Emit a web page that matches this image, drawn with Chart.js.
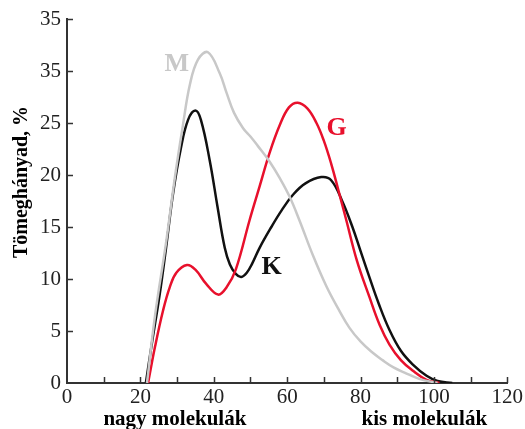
<!DOCTYPE html>
<html>
<head>
<meta charset="utf-8">
<script src="https://cdn.jsdelivr.net/npm/chart.js@4"></script>
<style>
  html, body { margin: 0; padding: 0; background: #fff; }
  #wrap { width: 525px; height: 429px; }
</style>
</head>
<body>
<div id="wrap"><canvas id="chart"></canvas></div>
<script>
// Molar-mass distribution curves (x: fraction position, y: mass %)
const seriesNames = ['M', 'G', 'K'];

const mX = [21.8, 24, 27, 29.5, 31.6, 33.5, 35.7, 38.4, 41.6, 43.5, 45.5, 48, 50, 52, 55.2, 58, 60.7, 63.4, 67, 70.7, 74, 77, 80, 83, 86, 89, 92, 96, 101];
const mY = [0, 6.5, 13.5, 20, 24.8, 28.7, 31.1, 31.8, 29.8, 27.9, 26.0, 24.5, 23.7, 22.8, 21.3, 19.7, 17.9, 15.6, 12.3, 9.3, 7.1, 5.3, 4.0, 3.0, 2.2, 1.5, 1.0, 0.4, 0];

const gX = [22.1, 24, 26.2, 28, 29.8, 32.7, 35, 38, 41.2, 43.5, 46, 49.8, 52.5, 55.2, 58, 60.5, 62.9, 65.5, 68, 70, 72, 74, 76.1, 79, 82.4, 85.2, 87.9, 91, 94.2, 98, 101.5];
const gY = [0, 3.5, 7.0, 9.2, 10.6, 11.35, 10.9, 9.5, 8.5, 9.2, 10.9, 15.7, 18.9, 22.1, 24.8, 26.5, 26.95, 26.4, 25.0, 23.3, 21.1, 18.5, 15.7, 11.8, 8.3, 5.6, 3.7, 2.2, 1.2, 0.3, 0];

const kX = [21.5, 23, 25.3, 27, 28.9, 31, 33, 35, 36.5, 38.9, 41, 43, 44.4, 46, 47.5, 49, 50.5, 52.5, 55.7, 58.5, 61.6, 65, 69.3, 72, 75, 77.8, 80, 82.4, 85, 87.9, 91, 94.2, 98, 101, 105];
const kY = [0, 3.5, 8.6, 13, 18.2, 22.5, 25.3, 26.2, 25.3, 21.4, 17, 13.0, 11.4, 10.5, 10.2, 10.6, 11.5, 13, 15.0, 16.6, 18.1, 19.2, 19.8, 19.5, 17.5, 15.0, 12.7, 10.2, 7.6, 5.1, 3.1, 1.8, 0.7, 0.2, 0];

// Tick labels as printed on the axes
const yTickLabels = ['0', '5', '10', '15', '20', '25', '35', '35'];
const xTickLabels = ['0', '', '20', '', '40', '', '60', '', '80', '', '100', '', '120'];

// Curve label anchors in data units
const labelPos = { M: [29.9, 30.6], G: [73.5, 24.5], K: [55.8, 11.1] };

const COLORS = { M: '#c8c8c8', G: '#e8102c', K: '#111111' };
const SERIF = '"Liberation Serif", "DejaVu Serif", serif';
const AXIS = '#333333';

const toPoints = (xs, ys) => xs.map((x, i) => ({ x, y: ys[i] }));
const seriesData = { M: toPoints(mX, mY), G: toPoints(gX, gY), K: toPoints(kX, kY) };

// Inside ticks, curve letters and free-standing captions
const decorPlugin = {
  id: 'decor',
  afterDraw(chart) {
    const { ctx, scales: { x, y }, chartArea } = chart;
    ctx.save();
    ctx.strokeStyle = AXIS;
    ctx.lineWidth = 1.5;
    ctx.beginPath();
    x.ticks.forEach((t) => {
      const px = Math.round(x.getPixelForValue(t.value)) + 0.5;
      if (t.value === 0) return;
      ctx.moveTo(px, chartArea.bottom);
      ctx.lineTo(px, chartArea.bottom - 6);
    });
    y.ticks.forEach((t) => {
      const py = Math.round(y.getPixelForValue(t.value)) + 0.5;
      if (t.value === 0) return;
      ctx.moveTo(chartArea.left, py);
      ctx.lineTo(chartArea.left + 6, py);
    });
    ctx.stroke();

    ctx.textAlign = 'center';
    ctx.textBaseline = 'middle';
    ctx.font = `bold 26px ${SERIF}`;
    seriesNames.forEach((n) => {
      const [vx, vy] = labelPos[n];
      ctx.fillStyle = COLORS[n];
      ctx.fillText(n, x.getPixelForValue(vx), y.getPixelForValue(vy));
    });

    ctx.fillStyle = '#000';
    ctx.textBaseline = 'alphabetic';
    ctx.font = `bold 21px ${SERIF}`;
    ctx.fillText('nagy molekulák', x.getPixelForValue(29.4), 425);
    ctx.fillText('kis molekulák', x.getPixelForValue(97.4), 425);

    ctx.textBaseline = 'middle';
    ctx.translate(22, 182);
    ctx.rotate(-Math.PI / 2);
    ctx.font = `bold 20px ${SERIF}`;
    ctx.fillText('Tömeghányad, %', 0, 0);
    ctx.restore();
  },
};

new Chart(document.getElementById('chart'), {
  type: 'line',
  data: {
    datasets: seriesNames.map((n) => ({
      label: n,
      data: seriesData[n],
      borderColor: COLORS[n],
      borderWidth: 2.5,
      pointRadius: 0,
      fill: false,
      tension: 0.4,
    })),
  },
  options: {
    responsive: true,
    maintainAspectRatio: false,
    animation: false,
    layout: { padding: { top: 19, right: 17, left: 0, bottom: 0 } },
    plugins: { legend: { display: false }, tooltip: { enabled: false } },
    scales: {
      x: {
        type: 'linear',
        min: 0,
        max: 120,
        afterFit: (s) => { s.height = 46; },
        grid: { display: false, drawTicks: false, tickLength: 0 },
        border: { color: AXIS, width: 2 },
        ticks: {
          stepSize: 10,
          autoSkip: false,
          maxRotation: 0,
          padding: 2,
          color: '#222',
          font: { family: SERIF, size: 21 },
          callback: (v) => xTickLabels[v / 10] ?? '',
        },
      },
      y: {
        min: 0,
        max: 35,
        afterFit: (s) => { s.width = 67; },
        grid: { display: false, drawTicks: false, tickLength: 0 },
        border: { color: AXIS, width: 2 },
        ticks: {
          stepSize: 5,
          padding: 6,
          color: '#222',
          font: { family: SERIF, size: 21 },
          callback: (v) => yTickLabels[v / 5] ?? '',
        },
      },
    },
  },
  plugins: [decorPlugin],
});
</script>
</body>
</html>
